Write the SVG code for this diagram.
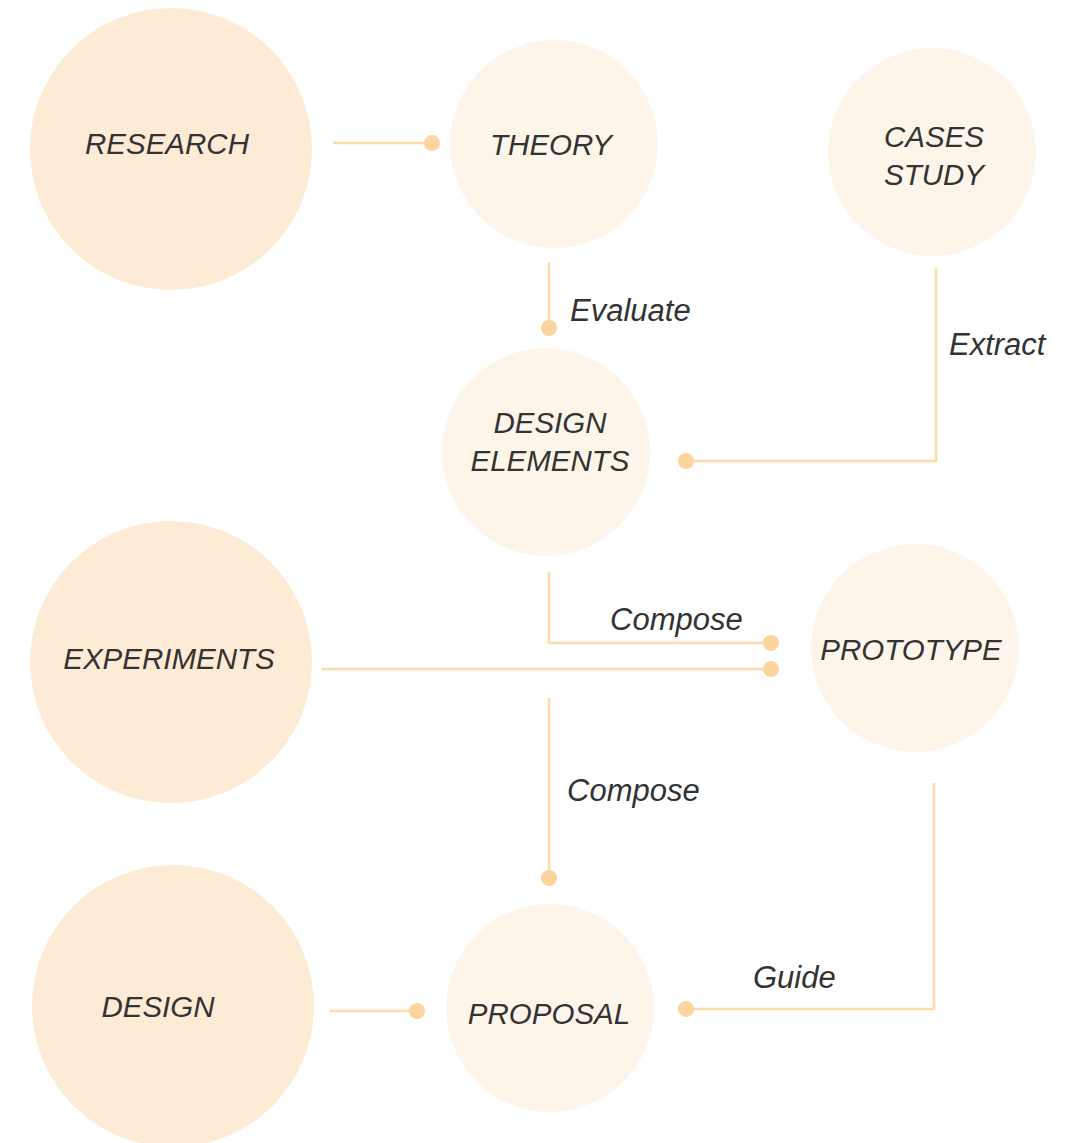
<svg xmlns="http://www.w3.org/2000/svg" width="1074" height="1143" viewBox="0 0 1074 1143">
<style>
.big{fill:#FDEBD6}
.small{fill:#FEF5EA}
.lbl{font-family:"Liberation Sans",Arial,sans-serif;font-style:italic;font-size:29.5px;fill:#333333;text-anchor:middle}
.elbl{font-family:"Liberation Sans",Arial,sans-serif;font-style:italic;font-size:31px;fill:#333333}
.ln{fill:none;stroke:#FDDBA8;stroke-width:2.5}
.dot{fill:#FCD59E}
</style>
<rect width="1074" height="1143" fill="#ffffff"/>
<g id="research"><circle class="big" cx="171" cy="149" r="141"/><text class="lbl" x="167" y="154">RESEARCH</text></g>
<g id="theory"><circle class="small" cx="554" cy="144" r="104"/><text class="lbl" x="551" y="155">THEORY</text></g>
<g id="cases-study"><circle class="small" cx="932" cy="152" r="104"/><text class="lbl" x="934" y="147">CASES</text><text class="lbl" x="934" y="185">STUDY</text></g>
<g id="design-elements"><circle class="small" cx="546" cy="452" r="104"/><text class="lbl" x="550" y="433">DESIGN</text><text class="lbl" x="550" y="471">ELEMENTS</text></g>
<g id="experiments"><circle class="big" cx="171" cy="662" r="141"/><text class="lbl" x="169" y="669">EXPERIMENTS</text></g>
<g id="prototype"><circle class="small" cx="915" cy="648" r="104"/><text class="lbl" x="911" y="660">PROTOTYPE</text></g>
<g id="design"><circle class="big" cx="173" cy="1006" r="141"/><text class="lbl" x="158" y="1017">DESIGN</text></g>
<g id="proposal"><circle class="small" cx="550" cy="1008" r="104"/><text class="lbl" x="549" y="1024">PROPOSAL</text></g>
<g id="connectors">
<path class="ln" d="M333,143 H432"/><circle class="dot" cx="432" cy="143" r="8"/>
<path class="ln" d="M549,262 V328"/><circle class="dot" cx="549" cy="328" r="8"/>
<text class="elbl" x="570" y="321">Evaluate</text>
<path class="ln" d="M936,268 V461 H686"/><circle class="dot" cx="686" cy="461" r="8"/>
<text class="elbl" x="949" y="355">Extract</text>
<path class="ln" d="M549,572 V643 H771"/><circle class="dot" cx="771" cy="643" r="8"/>
<text class="elbl" x="610" y="630">Compose</text>
<path class="ln" d="M322,669 H771"/><circle class="dot" cx="771" cy="669" r="8"/>
<path class="ln" d="M549,698 V878"/><circle class="dot" cx="549" cy="878" r="8"/>
<text class="elbl" x="567" y="801">Compose</text>
<path class="ln" d="M934,783 V1009 H686"/><circle class="dot" cx="686" cy="1009" r="8"/>
<text class="elbl" x="753" y="988">Guide</text>
<path class="ln" d="M330,1011 H417"/><circle class="dot" cx="417" cy="1011" r="8"/>
</g>
</svg>
